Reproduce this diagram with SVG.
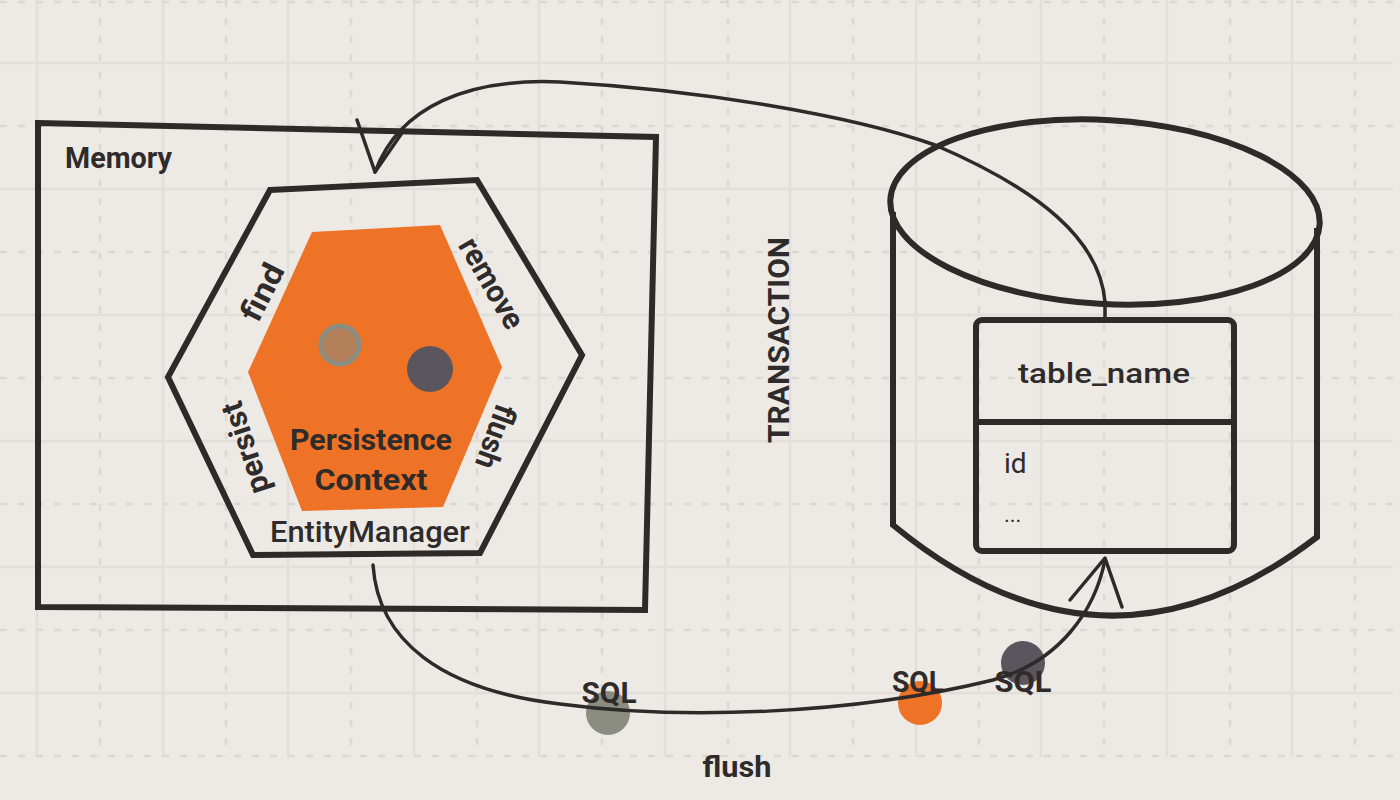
<svg xmlns="http://www.w3.org/2000/svg" width="1400" height="800" viewBox="0 0 1400 800">
<style>
.bg{fill:#edeae6}
.gs{stroke:#e2dfdb;stroke-width:2.5;fill:none}
.gd{stroke:#dcd8d4;stroke-width:2.5;fill:none;stroke-dasharray:7 11}
.thick{fill:none;stroke:#2e2a2a;stroke-width:6;stroke-linejoin:miter}
.conn{fill:none;stroke:#2e2a2a;stroke-width:3.5;stroke-linecap:round;stroke-linejoin:round}
.t{font-family:Roboto,"Liberation Sans",sans-serif;fill:#302b2b}
.b{font-weight:bold}
</style>
<rect class="bg" x="0" y="0" width="1400" height="800"/>
<g id="grid">
<path class="gs" d="M37,0V757M163,0V757M288,0V757M414,0V757M539,0V757M665,0V757M790,0V757M916,0V757M1041,0V757M1167,0V757M1292,0V757M0,63H1393M0,189H1393M0,315H1393M0,441H1393M0,567H1393M0,693H1393"/>
<path class="gd" d="M100,0V757M226,0V757M351,0V757M477,0V757M602,0V757M728,0V757M853,0V757M979,0V757M1104,0V757M1230,0V757M1355,0V757M0,2H1393M0,126H1393M0,252H1393M0,378H1393M0,504H1393M0,630H1393M0,756H1393"/>
</g>
<g id="memory">
<polygon class="thick" points="38,123 656,137 645,610 38,607"/>
<text class="t b" x="65" y="168" font-size="30" textLength="107" lengthAdjust="spacingAndGlyphs">Memory</text>
</g>
<g id="entity-manager">
<polygon class="thick" points="270,190 477,180 582,355 480,553 253,555 168,377"/>
<text class="t" x="370" y="542" font-size="30" font-weight="500" text-anchor="middle" textLength="200" lengthAdjust="spacingAndGlyphs">EntityManager</text>
<text class="t b" font-size="31" text-anchor="middle" transform="translate(262,292) rotate(-63)" dy="0.35em" textLength="60" lengthAdjust="spacingAndGlyphs">find</text>
<text class="t b" font-size="31" text-anchor="middle" transform="translate(492,283) rotate(60)" dy="0.35em" textLength="100" lengthAdjust="spacingAndGlyphs">remove</text>
<text class="t b" font-size="31" text-anchor="middle" transform="translate(245,448) rotate(-108)" dy="0.35em" textLength="95" lengthAdjust="spacingAndGlyphs">persist</text>
<text class="t b" font-size="31" text-anchor="middle" transform="translate(496,437) rotate(110)" dy="0.35em" textLength="66" lengthAdjust="spacingAndGlyphs">flush</text>
</g>
<g id="persistence-context">
<polygon fill="#ee7326" points="312,232 440,225 502,367 443,507 302,511 248,372"/>
<circle cx="340" cy="345" r="19" fill="#b4805a" stroke="#8b8d80" stroke-width="5"/>
<circle cx="430" cy="369" r="23" fill="#5b565d"/>
<text class="t b" x="371" y="450" font-size="30" text-anchor="middle" textLength="162" lengthAdjust="spacingAndGlyphs">Persistence</text>
<text class="t b" x="371" y="490" font-size="30" text-anchor="middle" textLength="113" lengthAdjust="spacingAndGlyphs">Context</text>
</g>
<g id="transaction-label">
<text class="t b" font-size="30" text-anchor="middle" transform="translate(789,340) rotate(-90)" textLength="206" lengthAdjust="spacingAndGlyphs">TRANSACTION</text>
</g>
<g id="database">
<ellipse class="thick" cx="1105" cy="212" rx="215" ry="92" transform="rotate(3.3 1105 212)"/>
<path class="thick" d="M893,212 V525 Q1105,700 1317,537 V228"/>
</g>
<g id="table">
<rect class="thick" x="976" y="320" width="258" height="231" rx="6"/>
<line class="thick" x1="976" y1="422" x2="1234" y2="422"/>
<text class="t" x="1104" y="383" font-size="28" font-weight="500" text-anchor="middle" textLength="172" lengthAdjust="spacingAndGlyphs">table_name</text>
<text class="t" x="1004" y="473" font-size="28">id</text>
<text class="t" x="1004" y="522" font-size="22">...</text>
</g>
<g id="sql-dots">
<circle cx="608" cy="713" r="22" fill="#8a8d80"/>
<circle cx="920" cy="703" r="22" fill="#ee7326"/>
<circle cx="1023" cy="663" r="22" fill="#5b565d"/>
</g>
<g id="connectors">
<path class="conn" d="M1105,320 L1105,302 C1100,240 1040,190 935,145 C850,115 700,90 560,82 C470,78 400,105 375,172"/>
<path class="conn" d="M357,120 L375,172 L404,130"/>
<path class="conn" d="M373,565 C378,640 440,690 560,704 C680,720 850,715 993,680 C1060,662 1095,610 1105,560"/>
<path class="conn" d="M1070,600 L1105,558 L1122,607"/>
</g>
<g id="labels">
<text class="t b" x="609" y="703" font-size="30" text-anchor="middle" textLength="55" lengthAdjust="spacingAndGlyphs">SQL</text>
<text class="t b" x="918" y="692" font-size="30" text-anchor="middle" textLength="52" lengthAdjust="spacingAndGlyphs">SQL</text>
<text class="t b" x="1023" y="692" font-size="30" text-anchor="middle" textLength="57" lengthAdjust="spacingAndGlyphs">SQL</text>
<text class="t b" x="737" y="777" font-size="29" text-anchor="middle" textLength="69" lengthAdjust="spacingAndGlyphs">flush</text>
</g>
</svg>
